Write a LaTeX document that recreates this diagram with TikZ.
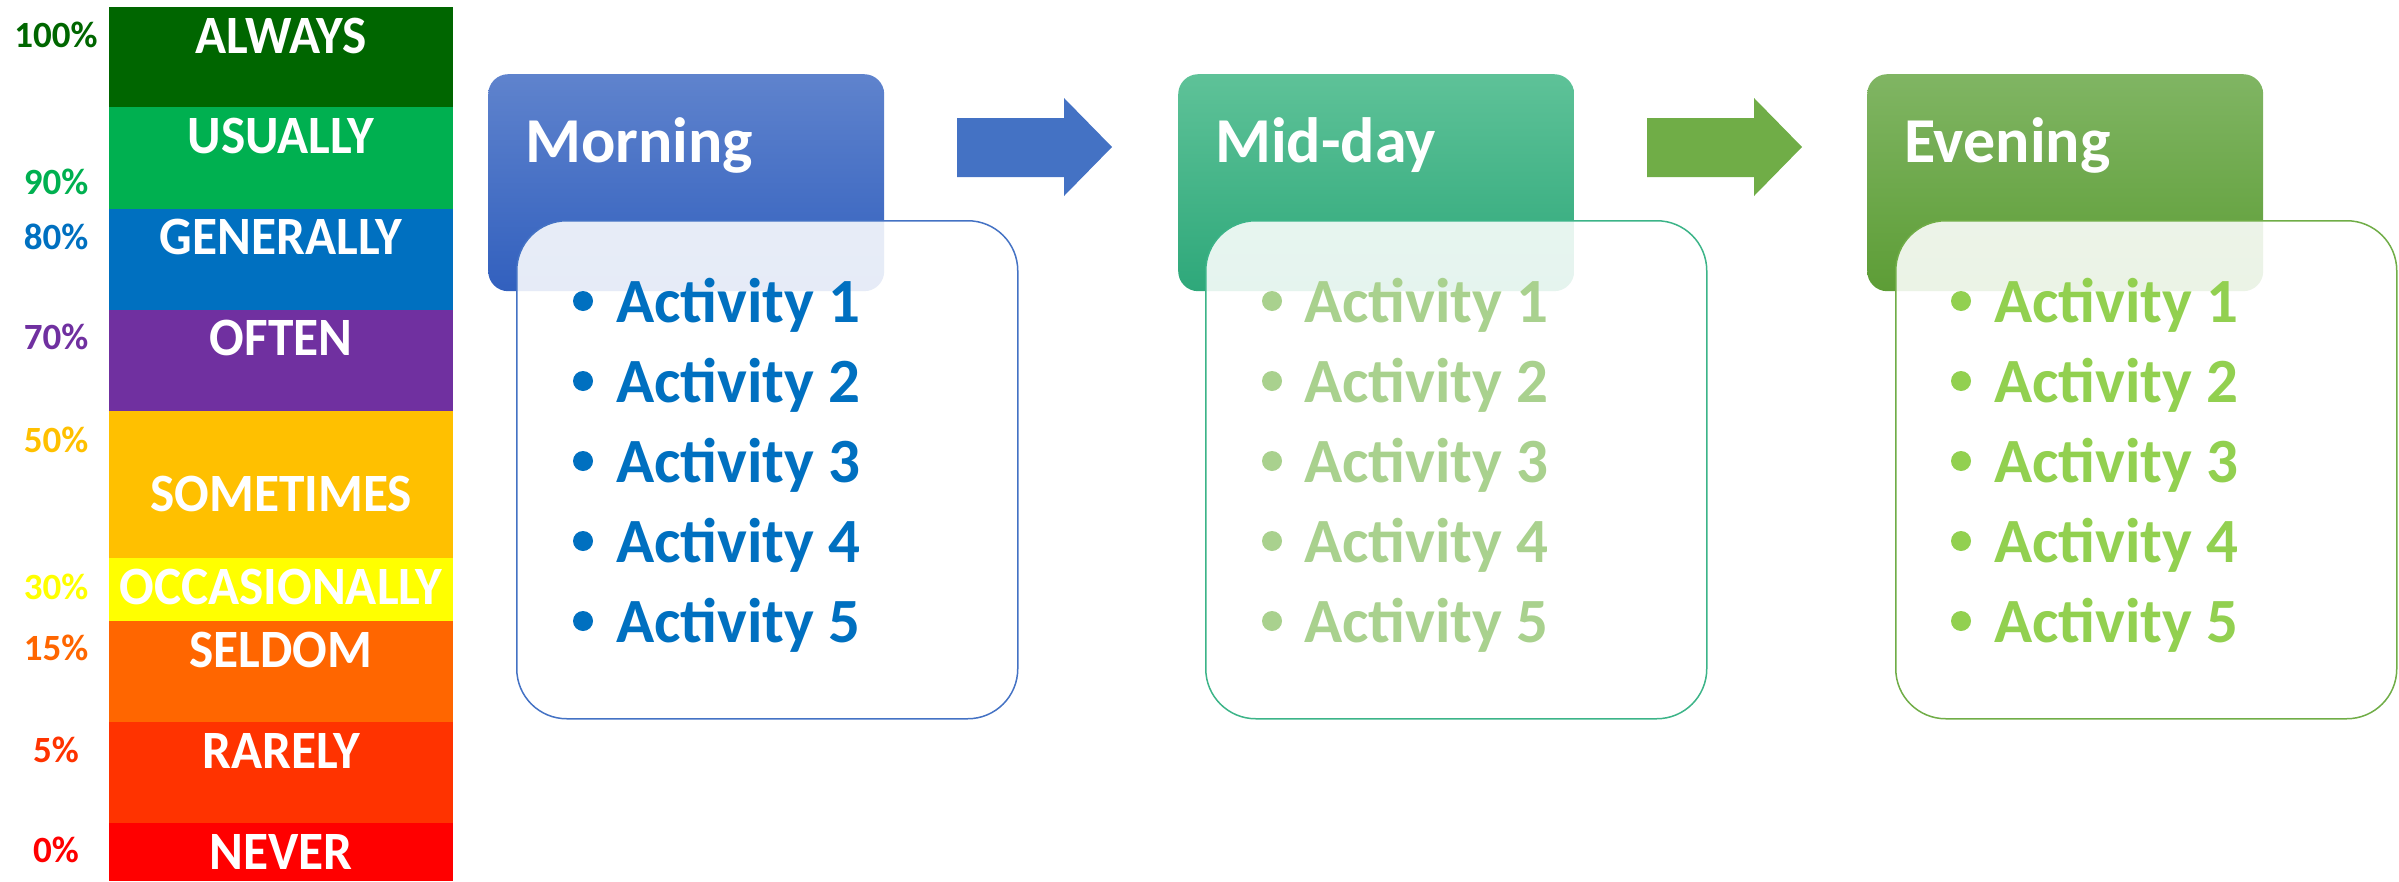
\documentclass[tikz,border=0pt]{standalone}
\usepackage{fontspec}
\setmainfont{Carlito}
\usepackage{tikz}
\usetikzlibrary{positioning, calc}

\definecolor{always}{HTML}{006600}
\definecolor{usually}{HTML}{00B050}
\definecolor{generally}{HTML}{0070C0}
\definecolor{often}{HTML}{7030A0}
\definecolor{sometimes}{HTML}{FFC000}
\definecolor{occasionally}{HTML}{FFFF00}
\definecolor{seldom}{HTML}{FF6600}
\definecolor{rarely}{HTML}{FF3300}
\definecolor{never}{HTML}{FF0000}

\definecolor{mtop}{RGB}{95,131,205}
\definecolor{mbottom}{RGB}{50,96,190}
\definecolor{mline}{HTML}{4472C4}
\definecolor{mtext}{HTML}{0070C0}
\definecolor{dtop}{RGB}{94,194,152}
\definecolor{dbottom}{RGB}{46,168,122}
\definecolor{dline}{RGB}{60,180,136}
\definecolor{dtext}{HTML}{A9D18E}
\definecolor{etop}{RGB}{128,181,99}
\definecolor{ebottom}{RGB}{93,157,54}
\definecolor{eline}{HTML}{70AD47}
\definecolor{etext}{HTML}{92D050}

\tikzset{
  band/.style={white, inner sep=0pt, font=\bfseries\fontsize{54}{54}\selectfont},
  pct/.style={inner sep=0pt, font=\bfseries\fontsize{37}{37}\selectfont},
  head/.style={rounded corners=20pt, minimum width=396pt, minimum height=217pt, anchor=north west, inner sep=0pt},
  body/.style={rounded corners=50pt, fill=white, fill opacity=0.88, line width=1.5pt, minimum width=501pt, minimum height=498pt, anchor=north west, inner sep=0pt},
  title/.style={white, inner sep=0pt, anchor=base west, font=\bfseries\fontsize{64}{64}\selectfont},
  item/.style={inner sep=0pt, anchor=base west, font=\bfseries\fontsize{63}{63}\selectfont},
}

\newcommand{\sq}[1]{\scalebox{0.95}[1]{#1}}

\begin{document}
\begin{tikzpicture}[x=1pt, y=-1pt]
  \useasboundingbox (0,0) rectangle (2399,881);

  % frequency scale
  \fill[always] (109,7) rectangle (453,107);
  \fill[usually] (109,107) rectangle (453,209);
  \fill[generally] (109,209) rectangle (453,310);
  \fill[often] (109,310) rectangle (453,411);
  \fill[sometimes] (109,411) rectangle (453,558);
  \fill[occasionally] (109,558) rectangle (453,621);
  \fill[seldom] (109,621) rectangle (453,722);
  \fill[rarely] (109,722) rectangle (453,823);
  \fill[never] (109,823) rectangle (453,881);

  \node[band] (lalways) at (281,36) {\sq{ALWAYS}};
  \node[band] (lusually) at (281,136) {\sq{USUALLY}};
  \node[band] (lgenerally) at (281,237) {\sq{GENERALLY}};
  \node[band] (loften) at (281,338) {\sq{OFTEN}};
  \node[band] (lsometimes) at (281,494) {\sq{SOMETIMES}};
  \node[band] (loccasionally) at (281,587) {\sq{OCCASIONALLY}};
  \node[band] (lseldom) at (281,650) {\sq{SELDOM}};
  \node[band] (lrarely) at (281,751) {\sq{RARELY}};
  \node[band] (lnever) at (281,852) {\sq{NEVER}};

  \node[pct, always] (p100) at (56,35) {100\%};
  \node[pct, usually] (p90) at (56,182) {90\%};
  \node[pct, generally] (p80) at (56,237) {80\%};
  \node[pct, often] (p70) at (56,337) {70\%};
  \node[pct, sometimes] (p50) at (56,440) {50\%};
  \node[pct, occasionally] (p30) at (56,587) {30\%};
  \node[pct, seldom] (p15) at (56,648) {15\%};
  \node[pct, rarely] (p5) at (56,750) {5\%};
  \node[pct, never] (p0) at (56,850) {0\%};

  % morning
  \node[head, top color=mtop, bottom color=mbottom] (mhead) at (488,74) {};
  \node[body, draw=mline] (mbody) at (516,220) {};
  \node[title] (mtitle) at (525,162) {Morning};
  \foreach \i in {1,...,5} {
    \fill[mtext] (583,301+80*\i-80) circle (10);
    \node[item, mtext] (m\i) at (616,322+80*\i-80) {Activity \i};
  }

  % mid-day
  \node[head, top color=dtop, bottom color=dbottom] (dhead) at (1178,74) {};
  \node[body, draw=dline] (dbody) at (1205,220) {};
  \node[title] (dtitle) at (1215,162) {Mid-day};
  \foreach \i in {1,...,5} {
    \fill[dtext] (1272,301+80*\i-80) circle (10);
    \node[item, dtext] (d\i) at (1304,322+80*\i-80) {Activity \i};
  }

  % evening
  \node[head, top color=etop, bottom color=ebottom] (ehead) at (1867,74) {};
  \node[body, draw=eline] (ebody) at (1895,220) {};
  \node[title] (etitle) at (1904,162) {Evening};
  \foreach \i in {1,...,5} {
    \fill[etext] (1961,301+80*\i-80) circle (10);
    \node[item, etext] (e\i) at (1994,322+80*\i-80) {Activity \i};
  }

  % block arrows between the parts of the day
  \fill[mline] (957,118) -- (1064,118) -- (1064,98) -- (1112,147) -- (1064,196) -- (1064,177) -- (957,177) -- cycle;
  \fill[eline] (1647,118) -- (1754,118) -- (1754,98) -- (1802,147) -- (1754,196) -- (1754,177) -- (1647,177) -- cycle;
\end{tikzpicture}
\end{document}
